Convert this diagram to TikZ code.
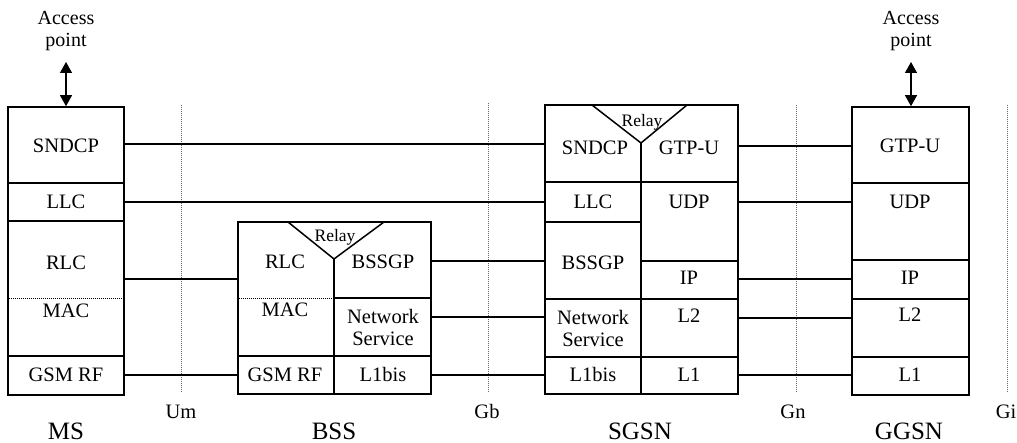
\documentclass[tikz,border=0pt]{standalone}
\usepackage{fontspec}
\setmainfont{Liberation Serif}
\usetikzlibrary{arrows.meta}
\begin{document}
\begin{tikzpicture}[x=1pt,y=-1pt,
  box/.style={draw, line width=1.6pt, inner sep=0pt},
  div/.style={line width=1.5pt},
  sepline/.style={line width=0.8pt, dash pattern=on 1pt off 1pt},
  link/.style={line width=1.3pt},
  iface/.style={line width=0.7pt, black!60, dash pattern=on 1pt off 1pt},
  txt/.style={font=\fontsize{20.5}{22}\selectfont, inner sep=0pt, text height=13.5pt, text depth=0pt},
  two/.style={font=\fontsize{20.5}{22}\selectfont, inner sep=0pt, align=center},
  relay/.style={font=\fontsize{17.5}{18}\selectfont, inner sep=0pt, text height=11.5pt, text depth=0pt},
  station/.style={font=\fontsize{25}{27}\selectfont, inner sep=0pt, text height=16.5pt, text depth=0pt},
  apx/.style={line width=1.3pt, {Triangle[width=12pt,length=11pt]}-{Triangle[width=12pt,length=11pt]}}
]
\useasboundingbox (0,0) rectangle (1017,443);

% ---------- stacks ----------
\node[box, minimum width=116pt, minimum height=288pt] (ms) at (66,251) {};
\node[box, minimum width=193pt, minimum height=172pt] (bss) at (334.5,308) {};
\node[box, minimum width=193pt, minimum height=289pt] (sgsn) at (641.5,249.5) {};
\node[box, minimum width=117pt, minimum height=288pt] (ggsn) at (910.5,251) {};

% ---------- interface lines ----------
\coordinate (um-t) at (181,105);  \coordinate (um-b) at (181,393);
\coordinate (gb-t) at (488,103);  \coordinate (gb-b) at (488,392);
\coordinate (gn-t) at (796,105);  \coordinate (gn-b) at (796,393);
\coordinate (gi-t) at (1007,105); \coordinate (gi-b) at (1007,392);
\draw[iface] (um-t) -- (um-b);
\draw[iface] (gb-t) -- (gb-b);
\draw[iface] (gn-t) -- (gn-b);
\draw[iface] (gi-t) -- (gi-b);

% ---------- MS internals ----------
\draw[div] (ms.west |- 0,183) -- (ms.east |- 0,183);
\draw[div] (ms.west |- 0,221) -- (ms.east |- 0,221);
\draw[div] (ms.west |- 0,356) -- (ms.east |- 0,356);
\draw[sepline] (ms.west |- 0,298) -- (ms.east |- 0,298);
\node[txt] (ms-sndcp) at (66,146) {SNDCP};
\node[txt] (ms-llc) at (66,202) {LLC};
\node[txt] (ms-rlc) at (66,263) {RLC};
\node[txt] (ms-mac) at (66,311) {MAC};
\node[txt] (ms-rf) at (66,375) {GSM RF};

% ---------- BSS internals ----------
\draw[div] (288,222) -- (334,259) -- (384,222);
\draw[div] (334,259) -- (334,394);
\draw[div] (334,298) -- (bss.east |- 0,298);
\draw[div] (bss.west |- 0,356) -- (bss.east |- 0,356);
\draw[sepline] (bss.west |- 0,298) -- (334,298);
\node[relay] (bss-relay) at (335,236) {Relay};
\node[txt] (bss-rlc) at (285,262) {RLC};
\node[txt] (bss-mac) at (285,310) {MAC};
\node[txt] (bss-bssgp) at (383,262) {BSSGP};
\node[two] (bss-ns) at (383,327) {Network\\Service};
\node[txt] (bss-rf) at (285,375) {GSM RF};
\node[txt] (bss-l1) at (383,375) {L1bis};

% ---------- SGSN internals ----------
\draw[div] (592,105) -- (641,143) -- (687,105);
\draw[div] (641,143) -- (641,394);
\draw[div] (sgsn.west |- 0,182) -- (sgsn.east |- 0,182);
\draw[div] (sgsn.west |- 0,222) -- (641,222);
\draw[div] (641,261) -- (sgsn.east |- 0,261);
\draw[div] (sgsn.west |- 0,299) -- (sgsn.east |- 0,299);
\draw[div] (sgsn.west |- 0,357) -- (sgsn.east |- 0,357);
\node[relay] (sgsn-relay) at (642,121) {Relay};
\node[txt] (sgsn-sndcp) at (595,148) {SNDCP};
\node[txt] (sgsn-gtp) at (689,148) {GTP-U};
\node[txt] (sgsn-llc) at (593,202) {LLC};
\node[txt] (sgsn-udp) at (689,202) {UDP};
\node[txt] (sgsn-bssgp) at (593,263) {BSSGP};
\node[txt] (sgsn-ip) at (689,278) {IP};
\node[two] (sgsn-ns) at (593,328) {Network\\Service};
\node[txt] (sgsn-l2) at (689,316) {L2};
\node[txt] (sgsn-l1bis) at (593,375) {L1bis};
\node[txt] (sgsn-l1) at (689,375) {L1};

% ---------- GGSN internals ----------
\draw[div] (ggsn.west |- 0,183) -- (ggsn.east |- 0,183);
\draw[div] (ggsn.west |- 0,260) -- (ggsn.east |- 0,260);
\draw[div] (ggsn.west |- 0,299) -- (ggsn.east |- 0,299);
\draw[div] (ggsn.west |- 0,357) -- (ggsn.east |- 0,357);
\node[txt] (ggsn-gtp) at (910,146) {GTP-U};
\node[txt] (ggsn-udp) at (910,202) {UDP};
\node[txt] (ggsn-ip) at (910,278) {IP};
\node[txt] (ggsn-l2) at (910,315) {L2};
\node[txt] (ggsn-l1) at (910,375) {L1};

% ---------- peer connectors ----------
\draw[link] (ms.east |- 0,144) -- (sgsn.west |- 0,144);
\draw[link] (ms.east |- 0,202) -- (sgsn.west |- 0,202);
\draw[link] (ms.east |- 0,279) -- (bss.west |- 0,279);
\draw[link] (ms.east |- 0,375) -- (bss.west |- 0,375);
\draw[link] (bss.east |- 0,261) -- (sgsn.west |- 0,261);
\draw[link] (bss.east |- 0,317) -- (sgsn.west |- 0,317);
\draw[link] (bss.east |- 0,375) -- (sgsn.west |- 0,375);
\draw[link] (sgsn.east |- 0,146) -- (ggsn.west |- 0,146);
\draw[link] (sgsn.east |- 0,202) -- (ggsn.west |- 0,202);
\draw[link] (sgsn.east |- 0,279) -- (ggsn.west |- 0,279);
\draw[link] (sgsn.east |- 0,318) -- (ggsn.west |- 0,318);
\draw[link] (sgsn.east |- 0,375) -- (ggsn.west |- 0,375);

% ---------- access points ----------
\node[two, font=\fontsize{20}{22}\selectfont] (ap-ms) at (66,31) {Access\\point};
\node[two, font=\fontsize{20}{22}\selectfont] (ap-gg) at (911,31) {Access\\point};
\coordinate (ap-ms-a) at (66,62);
\coordinate (ap-gg-a) at (911,62);
\draw[apx] (ap-ms-a) -- (ms.north);
\draw[apx] (ap-gg-a) -- (ggsn.north -| ap-gg-a);

% ---------- interface labels ----------
\node[txt] (um) at (181,412) {Um};
\node[txt] (gb) at (487,412) {Gb};
\node[txt] (gn) at (793,412) {Gn};
\node[txt] (gi) at (1006,412) {Gi};

% ---------- station labels ----------
\node[station] (l-ms) at (66,431) {MS};
\node[station] (l-bss) at (334,431) {BSS};
\node[station] (l-sgsn) at (640,431) {SGSN};
\node[station] (l-ggsn) at (909,431) {GGSN};
\end{tikzpicture}
\end{document}
